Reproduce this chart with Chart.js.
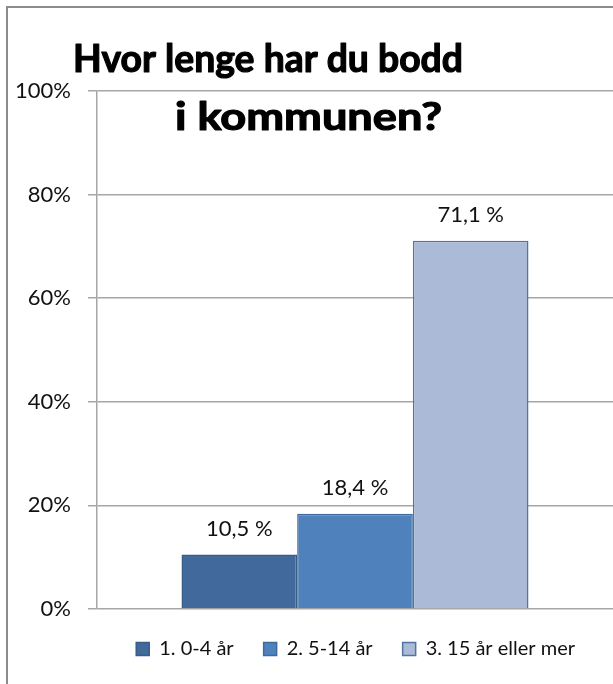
<!DOCTYPE html>
<html>
<head>
<meta charset="utf-8">
<script src="https://cdn.jsdelivr.net/npm/chart.js@4.4.0/dist/chart.umd.min.js"></script>
<style>
  html, body { margin: 0; padding: 0; background: #ffffff; overflow: hidden; }
  #wrap { position: relative; width: 613px; height: 684px; }
</style>
</head>
<body>
<div id="wrap"><canvas id="c"></canvas></div>
<script>
// ---- data ----
const titleLines = ["Hvor lenge har du bodd", "i kommunen?"];
const categories = [""];
const seriesNames = ["1. 0-4 år", "2. 5-14 år", "3. 15 år eller mer"];
const seriesValues = [10.5, 18.4, 71.1];
const yTicks = [0, 20, 40, 60, 80, 100];

const fillColors = ["#41699B", "#4F81BD", "#AABAD7"];
const borderColors = ["#385D8A", "#3E6A9E", "#5373A3"];

const FONT = "Lato, 'Open Sans', 'Liberation Sans', sans-serif";

const datasets = seriesNames.map((name, i) => ({
  label: name,
  data: [seriesValues[i]],
  backgroundColor: fillColors[i],
  borderColor: borderColors[i],
  borderWidth: 1.5,
  categoryPercentage: 0.6725,
  barPercentage: 1.0
}));

const framePlugin = {
  id: 'frame',
  beforeDraw(chart) {
    const ctx = chart.ctx;
    ctx.save();
    ctx.strokeStyle = '#8C8C8C';
    ctx.lineWidth = 2;
    ctx.beginPath();
    ctx.moveTo(7, 684);
    ctx.lineTo(7, 7);
    ctx.lineTo(613, 7);
    ctx.stroke();
    ctx.restore();
  }
};

const legendShiftPlugin = {
  id: 'legendShift',
  afterLayout(chart) {
    if (chart.legend) {
      chart.legend.right = chart.legend.right - 8;
    }
  }
};

const valueLabelPlugin = {
  id: 'valueLabels',
  afterDatasetsDraw(chart) {
    const ctx = chart.ctx;
    ctx.save();
    ctx.font = "22px " + FONT;
    ctx.fillStyle = '#111111';
    ctx.textAlign = 'center';
    ctx.textBaseline = 'alphabetic';
    chart.data.datasets.forEach((ds, i) => {
      const meta = chart.getDatasetMeta(i);
      meta.data.forEach((bar, j) => {
        const v = ds.data[j];
        const txt = v.toFixed(1).replace('.', ',') + ' %';
        ctx.fillText(txt, bar.x, bar.y - 19);
      });
    });
    ctx.restore();
  }
};

const titlePlugin = {
  id: 'bigTitle',
  afterDraw(chart) {
    const ctx = chart.ctx;
    const spec = [
      { x: 73, y: 72, w: 390 },
      { x: 175, y: 130, w: 267 }
    ];
    ctx.save();
    ctx.font = "bold 39px " + FONT;
    ctx.fillStyle = '#000000';
    ctx.strokeStyle = '#000000';
    ctx.lineWidth = 1.2;
    ctx.lineJoin = 'round';
    ctx.textAlign = 'left';
    ctx.textBaseline = 'alphabetic';
    titleLines.forEach((line, i) => {
      const s = spec[i];
      const m = ctx.measureText(line).width;
      ctx.save();
      ctx.translate(s.x, s.y);
      ctx.scale(s.w / m, 1);
      ctx.fillText(line, 0, 0);
      ctx.strokeText(line, 0, 0);
      ctx.restore();
    });
    ctx.restore();
  }
};

new Chart(document.getElementById('c'), {
  type: 'bar',
  data: { labels: categories, datasets: datasets },
  options: {
    responsive: true,
    maintainAspectRatio: false,
    animation: false,
    layout: { padding: { top: 91, right: 0, bottom: 15, left: 0 } },
    plugins: {
      title: { display: false },
      tooltip: { enabled: false },
      legend: {
        display: true,
        position: 'bottom',
        align: 'end',
        labels: {
          boxWidth: 13,
          boxHeight: 13,
          padding: 30,
          color: '#111111',
          font: { family: FONT, size: 20 }
        }
      }
    },
    scales: {
      x: {
        display: false,
        grid: { display: false }
      },
      y: {
        min: 0,
        max: 100,
        afterFit(scale) { scale.width = 97; },
        afterBuildTicks(scale) { scale.ticks = yTicks.map(v => ({ value: v })); },
        ticks: {
          padding: 17,
          color: '#111111',
          font: { family: FONT, size: 22 },
          callback: v => v + '%'
        },
        grid: {
          color: '#A6A6A6',
          lineWidth: 1.5,
          tickLength: 9,
          drawTicks: true
        },
        border: { display: true, color: '#A6A6A6', width: 1.5 }
      }
    }
  },
  plugins: [framePlugin, legendShiftPlugin, valueLabelPlugin, titlePlugin]
});
</script>
</body>
</html>
